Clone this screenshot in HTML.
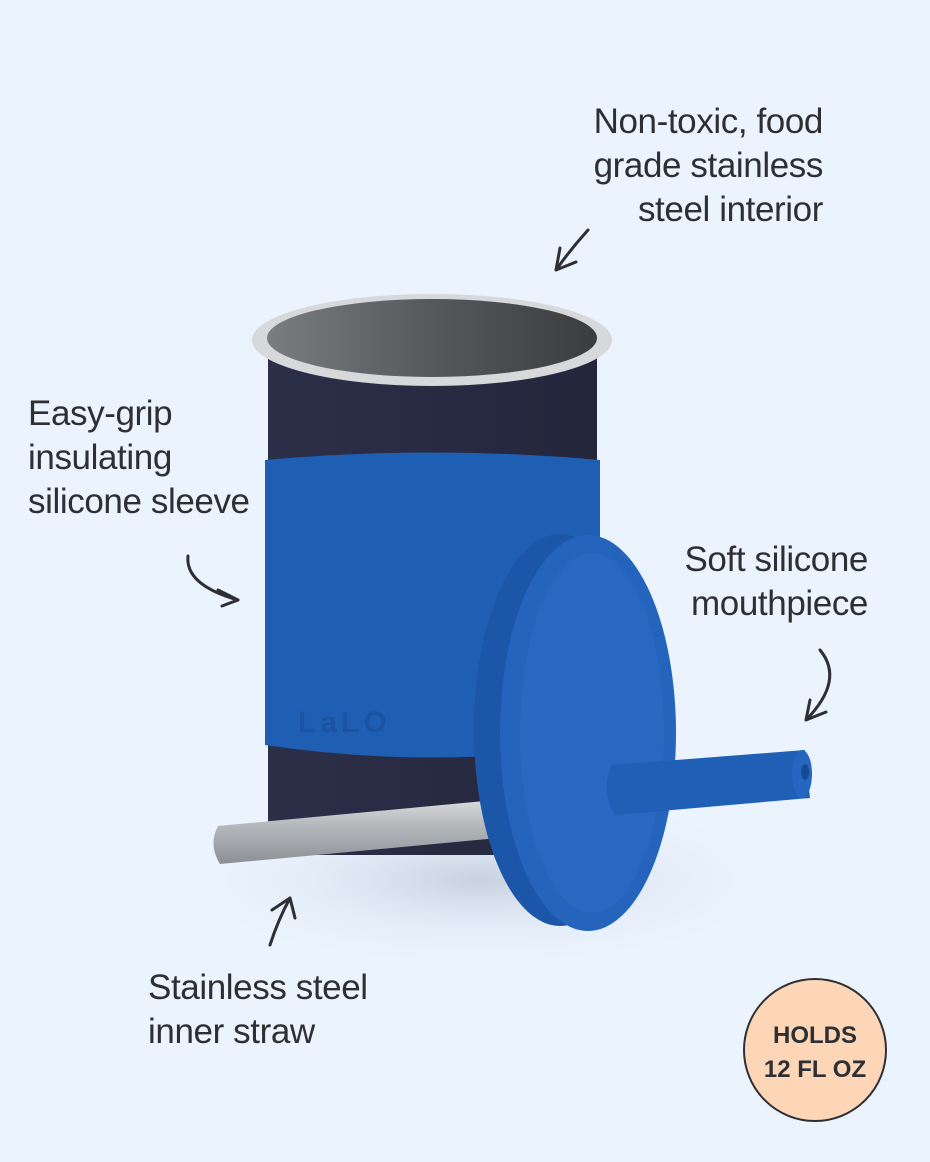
<!DOCTYPE html>
<html><head><meta charset="utf-8"><style>
html,body{margin:0;padding:0;background:#ebf3fe;}
body{width:930px;height:1162px;position:relative;overflow:hidden;font-family:"Liberation Sans",sans-serif;color:#2e2f33;}
.t{position:absolute;font-size:35px;line-height:44px;letter-spacing:-0.4px;}
</style></head><body>
<svg width="930" height="1162" style="position:absolute;left:0;top:0">
<defs>
<linearGradient id="steel" x1="0" y1="0" x2="0" y2="1"><stop offset="0" stop-color="#d8dadc"/><stop offset="0.4" stop-color="#b5b8bb"/><stop offset="1" stop-color="#8c9094"/></linearGradient>
<linearGradient id="inner" x1="0" y1="0" x2="1" y2="0"><stop offset="0" stop-color="#7a7d80"/><stop offset="0.5" stop-color="#56595c"/><stop offset="1" stop-color="#3a3c3e"/></linearGradient>
<linearGradient id="body" x1="0" y1="0" x2="1" y2="0"><stop offset="0" stop-color="#2c2f48"/><stop offset="1" stop-color="#24263c"/></linearGradient>
<radialGradient id="sh" cx="0.5" cy="0.5" r="0.5"><stop offset="0" stop-color="#c7d2df"/><stop offset="1" stop-color="#ebf3fe" stop-opacity="0"/></radialGradient>
</defs>
<ellipse cx="480" cy="880" rx="320" ry="90" fill="url(#sh)"/>
<path d="M268 340 L268 820 Q268 855 300 855 L565 855 Q597 855 597 820 L597 340 Z" fill="url(#body)"/>
<path d="M265 460 Q432 445 600 460 L600 745 Q432 770 265 745 Z" fill="#1f5fb3"/>
<text x="298" y="732" font-family="Liberation Sans" font-weight="bold" font-size="30" fill="#1b54a0" letter-spacing="4">LaLO</text>
<ellipse cx="432" cy="340" rx="180" ry="46" fill="#d6d8da"/>
<ellipse cx="432" cy="338" rx="165" ry="39" fill="url(#inner)"/>
<path d="M218 826 L495 800 L498 838 L220 864 Q208 845 218 826 Z" fill="url(#steel)"/>
<ellipse cx="560" cy="730" rx="86" ry="196" fill="#1c56a8"/>
<ellipse cx="588" cy="733" rx="88" ry="198" fill="#2464bd"/>
<ellipse cx="592" cy="733" rx="72" ry="180" fill="#2868c2"/>
<path d="M612 765 L805 750 L810 798 L615 815 Q600 790 612 765 Z" fill="#1f5fb6"/>
<ellipse cx="802" cy="774" rx="10" ry="24" fill="#2466c0"/>
<ellipse cx="805" cy="772" rx="4" ry="8" fill="#154a90"/>
<g fill="none" stroke="#2e2f33" stroke-width="3" stroke-linecap="round">
<path d="M588 230 Q570 250 556 270 M556 270 L560 248 M556 270 L576 262"/>
<path d="M188 556 Q185 585 238 600 M238 600 L218 590 M238 600 L222 606"/>
<path d="M820 650 Q845 680 806 720 M806 720 L810 700 M806 720 L826 712"/>
<path d="M270 945 Q278 920 290 898 M290 898 L272 910 M290 898 L295 918"/>
</g>
<circle cx="815" cy="1050" r="71" fill="#fdd6b8" stroke="#2e2f33" stroke-width="2"/>
<text x="815" y="1043" text-anchor="middle" font-family="Liberation Sans" font-weight="bold" font-size="24" fill="#2e2f33">HOLDS</text>
<text x="815" y="1077" text-anchor="middle" font-family="Liberation Sans" font-weight="bold" font-size="24" fill="#2e2f33">12 FL OZ</text>
</svg>
<div class="t" style="right:107px;top:100px;text-align:right">Non-toxic, food<br>grade stainless<br>steel interior</div>
<div class="t" style="left:28px;top:392px">Easy-grip<br>insulating<br>silicone sleeve</div>
<div class="t" style="right:62px;top:538px;text-align:right">Soft silicone<br>mouthpiece</div>
<div class="t" style="left:148px;top:966px">Stainless steel<br>inner straw</div>
</body></html>
